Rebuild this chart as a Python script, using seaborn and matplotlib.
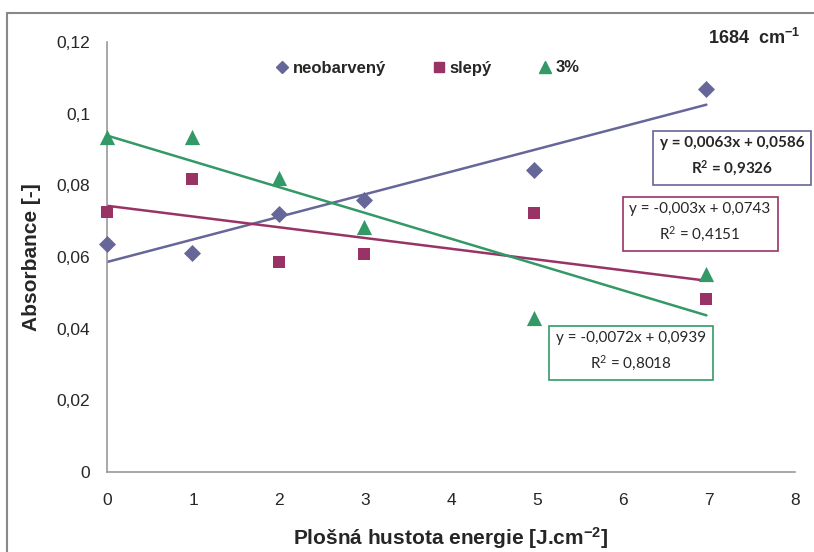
import numpy as np
import pandas as pd
import matplotlib
matplotlib.use('Agg')
import matplotlib.pyplot as plt
from matplotlib.lines import Line2D
import seaborn as sns

# data
energy = [0, 0.99, 2, 2.99, 4.97, 6.97]
neobarveny = [0.0636, 0.0611, 0.0720, 0.0759, 0.0843, 0.1069]
slepy = [0.0726, 0.0818, 0.0586, 0.0608, 0.0723, 0.0483]
tri_pct = [0.0935, 0.0935, 0.0820, 0.0684, 0.0430, 0.0553]

series_names = ['neobarvený', 'slepý', '3%']
slopes = [0.0063, -0.003, -0.0072]
intercepts = [0.0586, 0.0743, 0.0939]
r2 = ['0,9326', '0,4151', '0,8018']

colors = {'neobarvený': '#666699', 'slepý': '#993366', '3%': '#339966'}
markers = {'neobarvený': 'D', 'slepý': 's', '3%': '^'}
msize = {'neobarvený': 75, 'slepý': 80, '3%': 120}

df = pd.DataFrame({
    'x': energy * 3,
    'y': neobarveny + slepy + tri_pct,
    'serie': [n for n in series_names for _ in energy],
})

sns.set_style('white')
plt.rcParams['font.family'] = ['Liberation Sans Narrow', 'Liberation Sans', 'DejaVu Sans']
plt.rcParams['mathtext.default'] = 'regular'

W, H = 814, 552
fig = plt.figure(figsize=(W / 100, H / 100), dpi=100)
ax = fig.add_axes([107 / W, 1 - 472 / H, (795 - 107) / W, (472 - 42) / H])

# trend lines
xs = np.array([0, max(energy)])
for name, k, q in zip(series_names, slopes, intercepts):
    ax.plot(xs, k * xs + q, color=colors[name], lw=1.8, zorder=2)

for name in series_names:
    sns.scatterplot(data=df[df['serie'] == name], x='x', y='y',
                    color=colors[name], marker=markers[name], s=msize[name],
                    linewidth=0, ax=ax, zorder=3, clip_on=False)

ax.set_xlim(0, 8)
ax.set_ylim(0, 0.12)
ax.set_xticks(range(0, 9))
ax.set_yticks([0, 0.02, 0.04, 0.06, 0.08, 0.1, 0.12])
ax.set_yticklabels(['0', '0,02', '0,04', '0,06', '0,08', '0,1', '0,12'])
for s in ['top', 'right']:
    ax.spines[s].set_visible(False)
for s in ['left', 'bottom']:
    ax.spines[s].set_color('#999999')
    ax.spines[s].set_linewidth(1.2)
ax.tick_params(axis='both', direction='out', length=5, width=1.2,
               color='#999999', labelsize=12.5, pad=7)
ax.tick_params(axis='x', pad=10)

ax.set_xlabel('Plošná hustota energie [J.cm$^{-2}$]', fontsize=15,
              fontweight='bold', va='center')
ax.set_ylabel('Absorbance [-]', fontsize=15, fontweight='bold', va='center')
ax.xaxis.set_label_coords(0.5, -(538 - 472) / (472 - 42))
ax.yaxis.set_label_coords(-(107 - 32) / (795 - 107), 0.5)

handles = [Line2D([], [], marker=markers[n], color=colors[n], ls='none',
                  markersize=6.5 if n != '3%' else 8) for n in series_names]
fig.legend(handles, series_names, loc='center', ncol=3,
           bbox_to_anchor=(428 / W, 1 - 68 / H), frameon=False,
           handlelength=0.7, handletextpad=0.3, columnspacing=2.8,
           prop={'weight': 'bold', 'size': 12})

fig.text(800 / W, 1 - 38 / H, '1684  cm$^{-1}$', ha='right', va='center',
         fontsize=13, fontweight='bold')

# equation boxes
box_pos = [(732, 157), (700, 223), (631, 352)]
for name, k, q, r, (bx, by) in zip(series_names, slopes, intercepts, r2, box_pos):
    sign = '-' if k < 0 else ''
    kk = f'{abs(k):g}'.replace('.', ',')
    qq = f'{q:g}'.replace('.', ',')
    txt = f'y = {sign}{kk}x + {qq}\nR$^2$ = {r}'
    fig.text(bx / W, 1 - by / H, txt, ha='center', va='center',
             fontsize=11, family=['Lato', 'DejaVu Sans'], linespacing=1.6,
             fontweight='bold' if name == 'neobarvený' else 'normal',
             bbox=dict(boxstyle='square,pad=0.45', fc='white',
                       ec=colors[name], lw=1.2))

# outer chart frame (only left and top edges visible)
fig.add_artist(Line2D([7 / W, 7 / W], [0, 1 - 13 / H], color='#888888', lw=1.5))
fig.add_artist(Line2D([7 / W, 1], [1 - 13 / H, 1 - 13 / H], color='#888888', lw=1.5))

fig.savefig('out.png', dpi=100)
